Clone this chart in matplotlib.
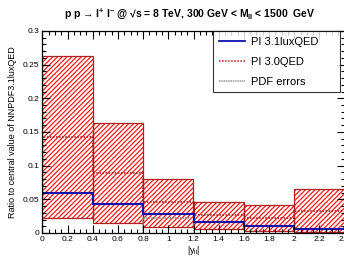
import numpy as np
import matplotlib
matplotlib.use("Agg")
import matplotlib.pyplot as plt
from matplotlib.ticker import MultipleLocator

plt.rcParams["font.family"] = ["Liberation Sans", "DejaVu Sans"]
plt.rcParams["mathtext.fontset"] = "custom"
plt.rcParams["mathtext.rm"] = "Liberation Sans"
plt.rcParams["mathtext.it"] = "Liberation Sans"
plt.rcParams["mathtext.bf"] = "Liberation Sans:bold"
plt.rcParams["hatch.linewidth"] = 0.9

# |y_ll| bins
edges = [0.0, 0.4, 0.8, 1.2, 1.6, 2.0, 2.4]
# ratio to central NNPDF3.1luxQED
lux31 = [0.060, 0.043, 0.028, 0.0168, 0.0104, 0.006]
qed30 = [0.142, 0.0896, 0.046, 0.026, 0.0225, 0.033]
band_hi = [0.263, 0.164, 0.080, 0.0465, 0.0416, 0.065]
band_lo = [0.0218, 0.0153, 0.0094, 0.0055, 0.0034, 0.002]
pdf_err = [np.nan, np.nan, 0.0228, np.nan, np.nan, np.nan]

fig = plt.figure(figsize=(3.44, 2.58), dpi=100)
ax = fig.add_axes([0.123, 0.097, 0.879, 0.783])

left = np.array(edges[:-1])
width = np.diff(edges)
hi = np.array(band_hi)
lo = np.array(band_lo)

ax.bar(left, hi - lo, width=width, bottom=lo, align="edge",
       facecolor="none", edgecolor="#ff1a1a", hatch="///////", linewidth=0)
ax.bar(left, hi - lo, width=width, bottom=lo, align="edge",
       facecolor="none", edgecolor="#b02020", linewidth=0.9)

ax.stairs(qed30, edges, color="#a01818", linestyle=(0, (1, 1)), linewidth=1.1)
ax.stairs(pdf_err, edges, color="#888888", linestyle=(0, (1, 0.7)), linewidth=1.1)
ax.stairs(lux31, edges, color="#1010b0", linewidth=1.5)

# legend proxies
ax.plot([], [], color="#1010b0", linewidth=1.3, label="PI 3.1luxQED")
ax.plot([], [], color="#c01818", linestyle=(0, (1, 1)), linewidth=1.1, label="PI 3.0QED")
ax.plot([], [], color="#999999", linestyle=(0, (1, 0.5)), linewidth=1.1, label="PDF errors")
h, l = ax.get_legend_handles_labels()
leg = ax.legend(h[-3:], l[-3:], loc="upper left", bbox_to_anchor=(0.565, 1.0, 0.42, 0.0),
                mode="expand", fontsize=8, frameon=True, fancybox=False, borderpad=0.5,
                handlelength=2.4, handletextpad=0.5, labelspacing=0.9, borderaxespad=0)
leg.get_frame().set_edgecolor("black")
leg.get_frame().set_linewidth(0.8)

ax.set_xlim(0, 2.4)
ax.set_ylim(0, 0.3)
ax.xaxis.set_major_locator(MultipleLocator(0.2))
ax.xaxis.set_minor_locator(MultipleLocator(0.05))
ax.yaxis.set_major_locator(MultipleLocator(0.05))
ax.yaxis.set_minor_locator(MultipleLocator(0.01))
ax.set_xticklabels([f"{v:g}" for v in ax.get_xticks()])
ax.set_yticklabels([f"{v:g}" for v in ax.get_yticks()])
ax.tick_params(which="both", direction="in", top=True, right=True,
               labelsize=6, pad=2, width=0.8)
ax.tick_params(which="major", length=6)
ax.tick_params(which="minor", length=3)
for s in ax.spines.values():
    s.set_linewidth(0.9)

ax.set_xlabel(r"|y$_{ll}$|", fontsize=6.5, labelpad=1, x=0.5)
ax.set_ylabel("Ratio to central value of NNPDF3.1luxQED", fontsize=6.5, labelpad=4)

fig.text(0.553, 0.945,
         r"p p → l$^{\mathbf{+}}$ l$^{\mathbf{-}}$ @ √s = 8 TeV, 300 GeV < M$_{\mathbf{ll}}$ < 1500  GeV",
         ha="center", va="center", fontsize=7.5, fontweight="bold")

fig.savefig("out.png", dpi=100)
